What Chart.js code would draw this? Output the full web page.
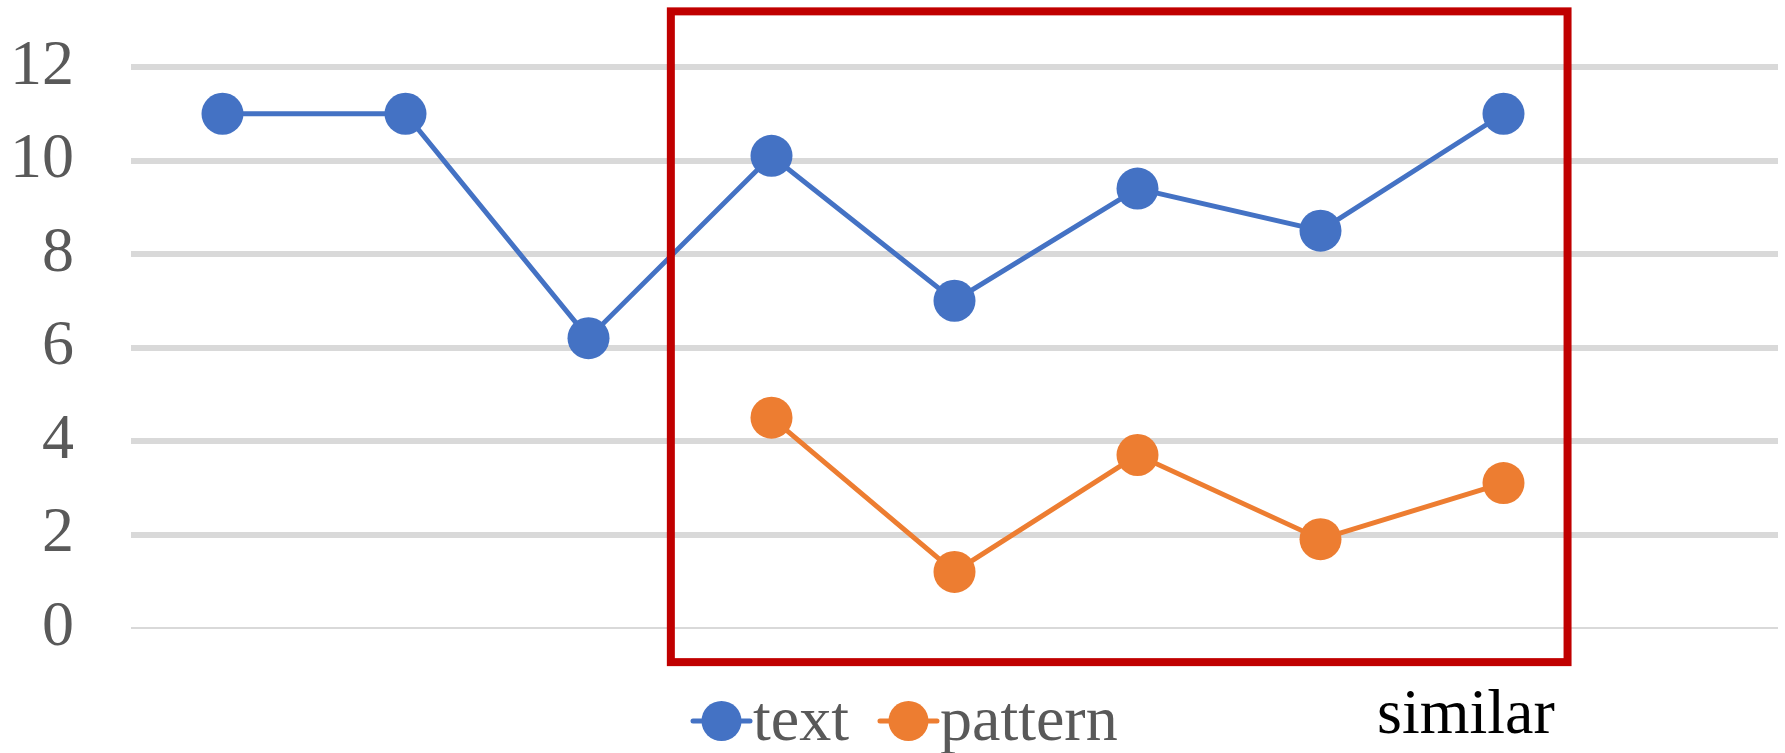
<!DOCTYPE html>
<html>
<head>
<meta charset="utf-8">
<script src="https://cdn.jsdelivr.net/npm/chart.js@4/dist/chart.umd.min.js"></script>
<style>
  html, body { margin: 0; padding: 0; background: #ffffff; }
  #wrap { width: 1785px; height: 753px; position: relative; }
</style>
</head>
<body>
<div id="wrap"><canvas id="c" width="1785" height="753"></canvas></div>
<script>
// Categories (the last slot is left empty)
const categories = ['1', '2', '3', '4', '5', '6', '7', '8', '9'];
// Series values
const textValues    = [11, 11, 6.2, 10.1, 7, 9.4, 8.5, 11, null];
const patternValues = [null, null, null, 4.5, 1.2, 3.7, 1.9, 3.1, null];
const seriesNames = ['text', 'pattern'];
// Y-axis ticks
const yTicks = [0, 2, 4, 6, 8, 10, 12];
// Highlight frame, in axis units: [xFrom, xTo, yFrom, yTo]
const frameRange = [2.45, 7.35, -0.73, 13.19];
const frameLabel = 'similar';

const BLUE = '#4472C4';
const ORANGE = '#ED7D31';
const FRAME = '#C00000';
const FONT = '"Liberation Serif", "Times New Roman", serif';

const overlay = {
  id: 'overlay',
  afterDatasetsDraw(chart) {
    const { ctx, scales: { x, y } } = chart;
    // red highlight frame
    const x0 = x.getPixelForValue(frameRange[0]);
    const x1 = x.getPixelForValue(frameRange[1]);
    const y0 = y.getPixelForValue(frameRange[2]);
    const y1 = y.getPixelForValue(frameRange[3]);
    ctx.save();
    ctx.strokeStyle = FRAME;
    ctx.lineWidth = 8;
    ctx.lineJoin = 'miter';
    ctx.strokeRect(x0, y1, x1 - x0, y0 - y1);
    ctx.restore();
  },
  afterDraw(chart) {
    const { ctx } = chart;
    ctx.save();
    ctx.font = '64px ' + FONT;
    ctx.textBaseline = 'alphabetic';
    // legend
    let lx = 693;
    const cy = 721;
    chart.data.datasets.forEach((ds) => {
      ctx.strokeStyle = ds.borderColor;
      ctx.lineWidth = 5;
      ctx.lineCap = 'round';
      ctx.beginPath();
      ctx.moveTo(lx, cy);
      ctx.lineTo(lx + 57, cy);
      ctx.stroke();
      ctx.fillStyle = ds.backgroundColor;
      ctx.beginPath();
      ctx.arc(lx + 28.5, cy, 20, 0, Math.PI * 2);
      ctx.fill();
      ctx.fillStyle = '#595959';
      ctx.fillText(ds.label, lx + 60, 740);
      lx += 60 + ctx.measureText(ds.label).width + 31;
    });
    // frame caption
    ctx.fillStyle = '#000000';
    ctx.fillText(frameLabel, 1377, 733);
    ctx.restore();
  }
};

new Chart(document.getElementById('c'), {
  type: 'line',
  data: {
    labels: categories,
    datasets: [
      {
        label: seriesNames[0],
        data: textValues,
        borderColor: BLUE,
        backgroundColor: BLUE,
        borderWidth: 5,
        pointRadius: 21,
        pointHoverRadius: 21,
        pointBorderWidth: 0,
        tension: 0,
        spanGaps: false,
        clip: false
      },
      {
        label: seriesNames[1],
        data: patternValues,
        borderColor: ORANGE,
        backgroundColor: ORANGE,
        borderWidth: 5,
        pointRadius: 21,
        pointHoverRadius: 21,
        pointBorderWidth: 0,
        tension: 0,
        spanGaps: false,
        clip: false
      }
    ]
  },
  options: {
    responsive: false,
    animation: false,
    events: [],
    layout: { autoPadding: false, padding: { top: 67, right: 7, bottom: 125, left: 0 } },
    plugins: {
      legend: { display: false },
      tooltip: { enabled: false },
      title: { display: false }
    },
    scales: {
      x: {
        type: 'category',
        offset: true,
        display: false,
        grid: { display: false }
      },
      y: {
        min: 0,
        max: 12,
        afterBuildTicks(scale) {
          scale.ticks = yTicks.map(v => ({ value: v }));
        },
        afterFit(scale) { scale.width = 131; scale.paddingTop = 0; scale.paddingBottom = 0; },
        border: { display: false },
        grid: {
          drawTicks: false,
          color: '#D9D9D9',
          lineWidth: (c) => (c.tick && c.tick.value === 0 ? 2 : 6)
        },
        ticks: {
          padding: 57,
          color: '#595959',
          font: { family: FONT, size: 64 }
        }
      }
    }
  },
  plugins: [overlay]
});
</script>
</body>
</html>
